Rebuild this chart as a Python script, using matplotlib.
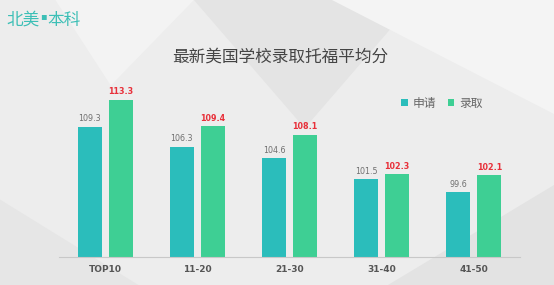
import numpy as np
import matplotlib
matplotlib.use("Agg")
import matplotlib.pyplot as plt
from matplotlib.patches import Polygon

plt.rcParams['font.family'] = ['Noto Sans CJK SC', 'DejaVu Sans']

categories = ['TOP10', '11-20', '21-30', '31-40', '41-50']
apply_vals = [109.3, 106.3, 104.6, 101.5, 99.6]
admit_vals = [113.3, 109.4, 108.1, 102.3, 102.1]
series_names = ['申请', '录取']

c_apply = '#2bbdbb'
c_admit = '#3ecf94'

fig = plt.figure(figsize=[5.54, 2.85], dpi=100)
fig.patch.set_facecolor('#ededed')

# faint background shapes
bg = fig.add_axes([0, 0, 1, 1], zorder=-1)
bg.set_xlim(0, 1)
bg.set_ylim(0, 1)
bg.axis('off')
for pts, col in [
    ([(0.35, 1), (0.75, 1), (0.55, 0.55)], '#e4e4e4'),
    ([(0.6, 1), (1, 1), (1, 0.6)], '#f4f4f4'),
    ([(0, 0.3), (0.25, 0), (0, 0)], '#e6e6e6'),
    ([(0.7, 0.0), (1, 0.0), (1, 0.35)], '#e3e3e3'),
    ([(0.1, 1), (0.35, 1), (0.2, 0.7)], '#f3f3f3'),
]:
    bg.add_patch(Polygon(pts, closed=True, facecolor=col, edgecolor='none'))

ax = fig.add_axes([0.1065, 0.098, 0.832, 0.593])
ax.set_facecolor('none')

x = np.arange(len(categories))
w = 0.26
off = 0.168
ax.bar(x - off, apply_vals, w, color=c_apply, label=series_names[0])
ax.bar(x + off, admit_vals, w, color=c_admit, label=series_names[1])

for xi, v in zip(x, apply_vals):
    ax.text(xi - off, v + 0.5, f'{v}', ha='center', va='bottom', fontsize=5.8,
            color='#707070', family='DejaVu Sans')
for xi, v in zip(x, admit_vals):
    ax.text(xi + off, v + 0.5, f'{v}', ha='center', va='bottom', fontsize=5.8,
            color='#e8303a', fontweight='bold', family='DejaVu Sans')

ax.set_xlim(-0.5, len(categories) - 0.5)
ax.set_ylim(90, 115)
ax.set_xticks(x)
ax.set_xticklabels(categories, fontsize=6.5, color='#555555', fontweight='bold',
                   family='DejaVu Sans')
ax.tick_params(axis='x', length=0, pad=6)
ax.set_yticks([])
for s in ['top', 'right', 'left']:
    ax.spines[s].set_visible(False)
ax.spines['bottom'].set_color('#c8c8c8')
ax.spines['bottom'].set_linewidth(0.8)

ax.legend(loc='center left', bbox_to_anchor=(0.742, 0.91), ncol=2, frameon=False,
          fontsize=8.5, handlelength=0.55, handleheight=0.55, handletextpad=0.4,
          columnspacing=1.0, labelcolor='#666666', borderpad=0, borderaxespad=0)

fig.text(0.506, 0.80, '最新美国学校录取托福平均分', ha='center', va='center',
         fontsize=12, color='#444444')

# logo, top left
logo_col = '#3cbfb6'
fig.text(0.012, 0.928, '北美', ha='left', va='center', fontsize=12, color=logo_col)
fig.text(0.0785, 0.943, '▪', ha='center', va='center', fontsize=7, color=logo_col,
         family='DejaVu Sans')
fig.text(0.086, 0.928, '本科', ha='left', va='center', fontsize=12, color=logo_col)

fig.savefig('out.png', dpi=100, facecolor=fig.get_facecolor())
